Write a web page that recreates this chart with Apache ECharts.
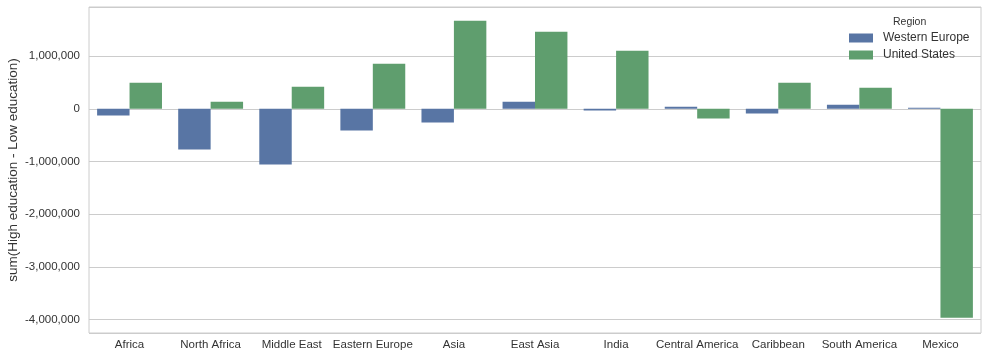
<!DOCTYPE html>
<html><head><meta charset="utf-8">
<script src="https://cdn.jsdelivr.net/npm/echarts@6/dist/echarts.min.js"></script>
<style>html,body{margin:0;padding:0;background:#fff}#c{width:987px;height:357px}</style>
</head><body><div id="c"></div>
<script>
const categories = ["Africa","North Africa","Middle East","Eastern Europe","Asia","East Asia","India","Central America","Caribbean","South America","Mexico"];
const westernEurope = [-127000,-773000,-1058000,-412000,-260000,133000,-32000,38000,-89000,76000,19000];
const unitedStates = [494000,133000,418000,855000,1673000,1464000,1103000,-184000,494000,399000,-3970000];
const yTicks = [-4000000,-3000000,-2000000,-1000000,0,1000000];

const chart = echarts.init(document.getElementById('c'));
const font = 'Liberation Sans, Arial, sans-serif';
chart.setOption({
  animation: false,
  textStyle: {fontFamily: font},
  grid: {left: 89, right: 6, top: 7, bottom: 24, show: true, borderColor: '#cccccc', borderWidth: 1, containLabel: false, outerBoundsMode: 'none'},
  title: {text: 'Region', left: 888, top: 12, textStyle: {fontSize: 10.5, fontWeight: 'normal', color: '#333', fontFamily: font}},
  legend: {
    orient: 'vertical', left: 844, top: 27, itemWidth: 24, itemHeight: 9, itemGap: 5,
    icon: 'rect',
    textStyle: {fontSize: 12, color: '#333', lineHeight: 12, padding: [0,0,0,5], fontFamily: font},
    data: ['Western Europe', 'United States']
  },
  xAxis: {
    type: 'category', data: categories,
    axisLine: {show: false}, axisTick: {show: false},
    axisLabel: {fontSize: 11.5, color: '#333', margin: 6, interval: 0},
    splitLine: {show: false}
  },
  yAxis: {
    type: 'value', min: -4258000, max: 1933000,
    name: 'sum(High education - Low education)', nameLocation: 'middle', nameGap: 69,
    nameMoveOverlap: false,
    nameTextStyle: {fontSize: 13.5, color: '#333'},
    axisLine: {show: false}, axisTick: {show: false},
    axisLabel: {fontSize: 11.5, color: '#333', margin: 9, customValues: yTicks,
      formatter: v => Math.round(v).toLocaleString('en-US')},
    splitLine: {show: true, lineStyle: {color: '#cccccc', width: 1}}
  },
  series: [
    {name: 'Western Europe', type: 'bar', data: westernEurope, itemStyle: {color: '#5875a4'}, barGap: '0%', barCategoryGap: '20%'},
    {name: 'United States', type: 'bar', data: unitedStates, itemStyle: {color: '#5f9e6e'}, barGap: '0%', barCategoryGap: '20%'}
  ]
});
</script></body></html>
